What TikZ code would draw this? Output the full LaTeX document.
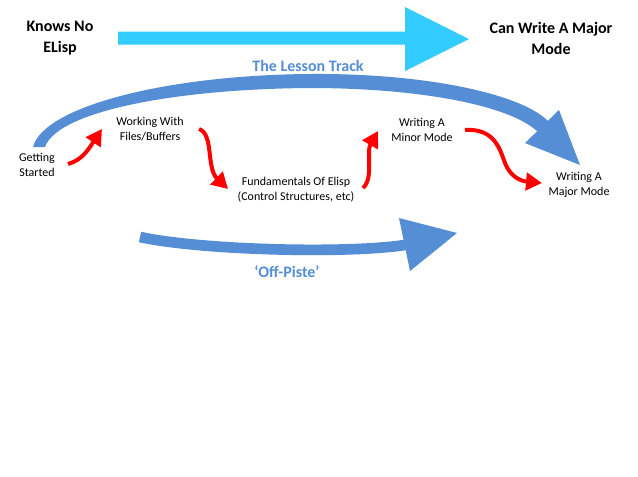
\documentclass[tikz,border=0pt]{standalone}
\usepackage{fontspec}
\setmainfont{Carlito}
\usetikzlibrary{arrows.meta}
\definecolor{cyanar}{RGB}{51,204,255}
\definecolor{bluear}{RGB}{85,142,213}
\definecolor{redar}{RGB}{255,0,0}
\begin{document}
\begin{tikzpicture}[x=0.75pt,y=0.75pt,
 big/.style={font=\fontsize{12}{15.75}\selectfont\bfseries, align=center, inner sep=0pt},
 small/.style={font=\fontsize{9}{11.25}\selectfont, align=center, inner sep=0pt},
 bluelbl/.style={font=\fontsize{12}{15}\selectfont\bfseries, text=bluear, inner sep=0pt},
 redarrow/.style={draw=redar, line width=3pt, -{Triangle[length=12pt,width=13pt]}},
 bluepath/.style={draw=bluear, line cap=butt}]
\fill[white] (0,0) rectangle (638,-476);
\useasboundingbox (0,0) rectangle (638,-476);

% top cyan arrow
\fill[cyanar] (118,-31.5) -- (405,-31.5) -- (405,-7) -- (469,-39) -- (405,-71) -- (405,-44.5) -- (118,-44.5) -- cycle;

% labels
\node[big] (knows) at (60,-38.5) {Knows No\\ELisp};
\node[big] (canwrite) at (551,-38.5) {Can Write A Major\\Mode};
\node[bluelbl] (lesson) at (308,-66) {The Lesson Track};
\node[bluelbl] (offpiste) at (287,-272) {‘Off-Piste’};

\node[small] (getting) at (37,-164.5) {Getting\\Started};
\node[small] (working) at (150,-129.5) {Working With\\Files/Buffers};
\node[small] (fund) at (296,-190) {Fundamentals Of Elisp\\(Control Structures, etc)};
\node[small] (minor) at (422,-129.5) {Writing A\\Minor Mode};
\node[small] (major) at (579,-184.5) {Writing A\\Major Mode};

% big lesson-track arrow (tapered band)
\fill[bluear] (33,-147) .. controls (44,-106) and (168,-75) .. (310,-74)
  .. controls (422,-73) and (520,-93) .. (548,-121)
  -- (538,-132) .. controls (510,-105) and (418,-88) .. (310,-88)
  .. controls (172,-89) and (57,-112) .. (45,-147) -- cycle;
\fill[bluear] (559,-110) -- (580,-165) -- (525,-143) -- cycle;

% off-piste arrow
\draw[bluepath, line width=8pt] (140,-237) .. controls (200,-250) and (345,-254) .. (405,-245);
\fill[bluear] (399,-218) -- (457,-233) -- (410,-271) -- cycle;

% red arrows
\coordinate (r1s) at (68,-164);
\coordinate (r1e) at (102,-129);
\coordinate (r2s) at (199,-129);
\coordinate (r2e) at (228,-189);
\coordinate (r3s) at (363,-188);
\coordinate (r3e) at (378,-131);
\coordinate (r4s) at (465,-130);
\coordinate (r4e) at (542,-183);

\draw[redarrow] (r1s) .. controls (82,-160) and (88,-150) .. (r1e);
\draw[redarrow] (r2s) .. controls (214,-134) and (206,-168) .. (r2e);
\draw[redarrow] (r3s) .. controls (374,-178) and (366,-152) .. (r3e);
\draw[redarrow] (r4s) .. controls (495,-128) and (500,-150) .. (505,-163)
  .. controls (510,-176) and (520,-181) .. (r4e);
\end{tikzpicture}
\end{document}
